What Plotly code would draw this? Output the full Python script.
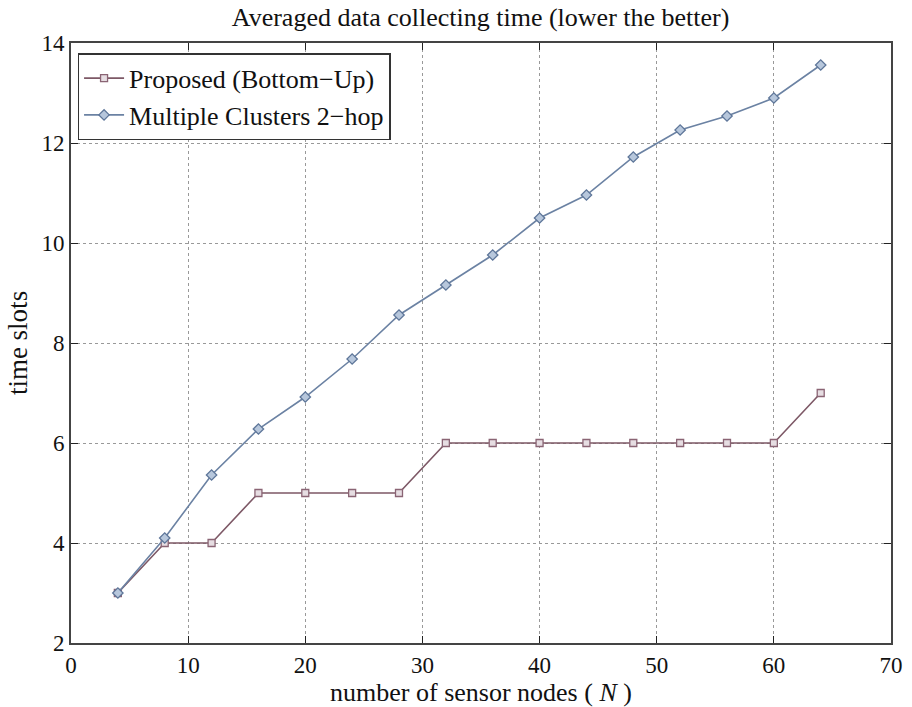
import plotly.graph_objects as go

nodes = [4, 8, 12, 16, 20, 24, 28, 32, 36, 40, 44, 48, 52, 56, 60, 64]
proposed = [3, 4, 4, 5, 5, 5, 5, 6, 6, 6, 6, 6, 6, 6, 6, 7]
multi2hop = [3.0, 4.1, 5.36, 6.28, 6.92, 7.68, 8.56, 9.16, 9.76, 10.5, 10.96, 11.72, 12.26, 12.54, 12.9, 13.56]
x_ticks = [0, 10, 20, 30, 40, 50, 60, 70]
y_ticks = [2, 4, 6, 8, 10, 12, 14]

FONT = "Liberation Serif"

fig = go.Figure()
fig.add_trace(go.Scatter(
    x=nodes, y=proposed, mode="lines+markers", name="Proposed (Bottom\u2212Up)",
    line=dict(color="#7d5866", width=1.6),
    marker=dict(symbol="square", size=7, color="#e6dde2",
                line=dict(color="#8a6474", width=1.3)),
))
fig.add_trace(go.Scatter(
    x=nodes, y=multi2hop, mode="lines+markers", name="Multiple Clusters 2\u2212hop",
    line=dict(color="#6b82a3", width=1.6),
    marker=dict(symbol="diamond", size=8, color="#b7c7dc",
                line=dict(color="#5e7699", width=1.3)),
))

axis_common = dict(
    showline=True, linecolor="#444", linewidth=2, mirror="ticks",
    ticks="inside", ticklen=7, tickcolor="#222", tickwidth=1.3,
    showgrid=True, gridcolor="#999", griddash="dot", gridwidth=1,
    zeroline=False, automargin=False,
    tickfont=dict(family=FONT, size=23, color="#111"),
)

fig.update_layout(
    width=912, height=707,
    paper_bgcolor="white", plot_bgcolor="white",
    margin=dict(l=71, r=21, t=43, b=64),
    title=dict(text="Averaged data collecting time (lower the better)",
               x=0.527, xanchor="center", xref="container", y=0.976, yanchor="middle",
               font=dict(family=FONT, size=26, color="#111")),
    xaxis=dict(range=[0, 70], tickvals=x_ticks,
               title=dict(text="number of sensor nodes ( <i>N</i> )", standoff=0,
                          font=dict(family=FONT, size=26, color="#111")),
               **axis_common),
    yaxis=dict(range=[2, 14], tickvals=y_ticks, ticklabelstandoff=0,
               title=dict(text="time slots", standoff=6,
                          font=dict(family=FONT, size=27, color="#111")),
               **axis_common),
    legend=dict(x=0.008, y=0.983, xanchor="left", yanchor="top",
                bgcolor="white", bordercolor="#333", borderwidth=1.5,
                font=dict(family=FONT, size=26, color="#111"),
                tracegroupgap=0, itemwidth=40),
    showlegend=True,
)

fig.write_html("out.html", config={"displayModeBar": False},
               post_script="document.body.style.margin='0';")
